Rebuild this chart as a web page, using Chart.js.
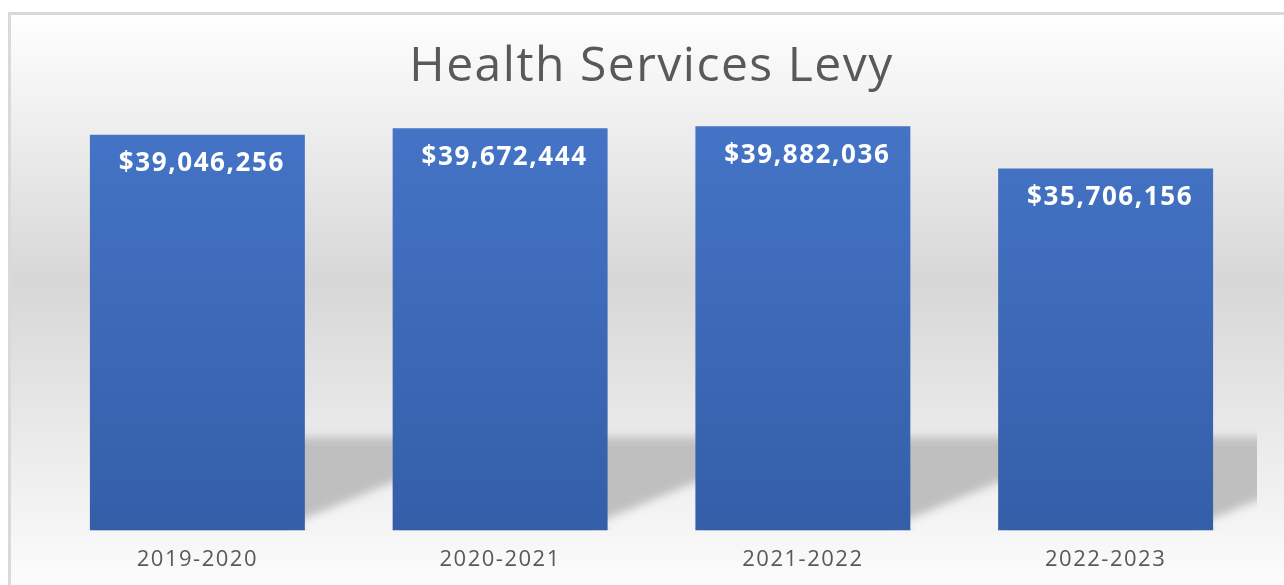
<!DOCTYPE html>
<html>
<head>
<meta charset="utf-8">
<script src="https://cdn.jsdelivr.net/npm/chart.js@4.4.1/dist/chart.umd.min.js"></script>
<style>
  html, body { margin: 0; padding: 0; background: #ffffff; }
  #wrap { position: relative; width: 1284px; height: 585px; }
  canvas { display: block; }
</style>
</head>
<body>
<div id="wrap"><canvas id="c" width="1284" height="585"></canvas></div>
<script>
const titleText = 'Health Services Levy';
const categories = ['2019-2020', '2020-2021', '2021-2022', '2022-2023'];
const levyValues = [39046256, 39672444, 39882036, 35706156];
const yMin = 0;
const yMax = 42800000;

const FONT = "'Open Sans', 'Noto Sans', sans-serif";

const backgroundPlugin = {
  id: 'bgFrame',
  beforeDraw(chart) {
    const ctx = chart.ctx;
    const W = chart.width, H = chart.height;
    ctx.save();
    ctx.fillStyle = '#ffffff';
    ctx.fillRect(0, 0, W, H);
    const fx = 8, fy = 12;
    const g = ctx.createLinearGradient(0, fy, 0, H);
    g.addColorStop(0, '#ffffff');
    g.addColorStop(0.47, '#d7d7d7');
    g.addColorStop(1, '#fcfcfc');
    ctx.fillStyle = g;
    ctx.fillRect(fx, fy, W - fx + 10, H - fy + 10);
    ctx.strokeStyle = '#d9d9d9';
    ctx.lineWidth = 3;
    ctx.strokeRect(fx + 1.5, fy + 1.5, W, H);
    ctx.restore();
    // slightly widened lettering for title and axis labels
    ctx.letterSpacing = '1.5px';
  },
  afterDraw(chart) {
    chart.ctx.letterSpacing = '0px';
  }
};

const shadowPlugin = {
  id: 'barShadow',
  beforeDatasetsDraw(chart) {
    const ctx = chart.ctx;
    const area = chart.chartArea;
    const meta = chart.getDatasetMeta(0);
    ctx.save();
    ctx.beginPath();
    ctx.rect(area.left, area.top, area.right - area.left, area.bottom - area.top);
    ctx.clip();
    ctx.filter = 'blur(4px)';
    ctx.fillStyle = '#bfbfbf';
    meta.data.forEach(bar => {
      const base = bar.base;
      const half = bar.width / 2;
      const left = bar.x - half, right = bar.x + half;
      const sh = 0.215 * (base - area.top);
      const b0 = -0.26 * sh, t0 = 2.1 * sh;
      ctx.beginPath();
      ctx.moveTo(left + 4, base - 2);
      ctx.lineTo(right + b0, base - 2);
      ctx.lineTo(right + t0, base - sh);
      ctx.lineTo(left + t0, base - sh);
      ctx.closePath();
      ctx.fill();
    });
    ctx.filter = 'blur(2px)';
    ctx.fillStyle = 'rgba(170,170,170,0.35)';
    meta.data.forEach(bar => {
      const half = bar.width / 2;
      ctx.fillRect(bar.x - half + 2, bar.base - 2, bar.width, 4);
    });
    ctx.restore();
  }
};

const labelPlugin = {
  id: 'barLabels',
  afterDatasetsDraw(chart) {
    const ctx = chart.ctx;
    const meta = chart.getDatasetMeta(0);
    ctx.save();
    ctx.letterSpacing = '1.6px';
    ctx.fillStyle = '#ffffff';
    ctx.font = "bold 26px " + FONT;
    ctx.textAlign = 'center';
    ctx.textBaseline = 'middle';
    meta.data.forEach((bar, i) => {
      const txt = '$' + levyValues[i].toLocaleString('en-US');
      ctx.fillText(txt, bar.x + 4.5, bar.y + 29);
    });
    ctx.restore();
  }
};

const ctx = document.getElementById('c').getContext('2d');
new Chart(ctx, {
  type: 'bar',
  data: {
    labels: categories,
    datasets: [{
      data: levyValues,
      backgroundColor(context) {
        const chart = context.chart;
        const area = chart.chartArea;
        if (!area) return '#4472c4';
        const g = chart.ctx.createLinearGradient(0, area.top, 0, area.bottom);
        g.addColorStop(0, '#4675c8');
        g.addColorStop(1, '#345ea8');
        return g;
      },
      borderWidth: 0,
      categoryPercentage: 1.0,
      barPercentage: 0.71
    }]
  },
  options: {
    responsive: false,
    animation: false,
    devicePixelRatio: 1,
    layout: { padding: { top: 12, left: 46, right: 27, bottom: -4 } },
    plugins: {
      legend: { display: false },
      tooltip: { enabled: false },
      title: {
        display: true,
        text: titleText,
        color: '#595959',
        font: { family: FONT, size: 48, weight: 'normal', lineHeight: 1.2 },
        padding: { top: 27, bottom: 0 }
      }
    },
    scales: {
      x: {
        grid: { display: false, drawTicks: false },
        border: { display: false },
        ticks: {
          color: '#595959',
          font: { family: FONT, size: 22, lineHeight: 1.2 },
          padding: 16
        }
      },
      y: {
        display: false,
        min: yMin,
        max: yMax
      }
    }
  },
  plugins: [backgroundPlugin, shadowPlugin, labelPlugin]
});
</script>
</body>
</html>
